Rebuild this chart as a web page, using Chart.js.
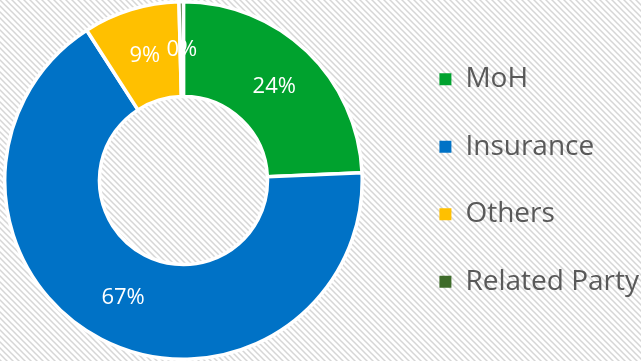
<!DOCTYPE html>
<html lang="en">
<head>
  <meta charset="UTF-8" />
  <title>Revenue by Payer</title>
  <script src="https://cdn.jsdelivr.net/npm/chart.js"></script>
  <style>
    html, body { margin: 0; padding: 0; background: #fff; }
    #wrap { width: 641px; height: 361px; }
  </style>
</head>
<body>
  <div id="wrap">
    <canvas id="payerChart" width="641" height="361"></canvas>
  </div>

  <script>
    // payer split, in percent
    const payers = ['MoH', 'Insurance', 'Others', 'Related Party'];
    const shares = [24.3, 66.6, 8.7, 0.4];
    const sliceColors = ['#00A22E', '#0072C6', '#FFC000', '#3E6B2A'];

    // light diagonal hatching behind the whole chart
    function hatchPattern(ctx) {
      const tile = document.createElement('canvas');
      tile.width = 6;
      tile.height = 6;
      const t = tile.getContext('2d');
      t.fillStyle = '#ffffff';
      t.fillRect(0, 0, 6, 6);
      t.strokeStyle = '#d6d6d6';
      t.lineWidth = 1.5;
      t.beginPath();
      t.moveTo(-1, -1); t.lineTo(7, 7);
      t.moveTo(-4, 2); t.lineTo(4, 10);
      t.moveTo(2, -4); t.lineTo(10, 4);
      t.stroke();
      return ctx.createPattern(tile, 'repeat');
    }

    const hatchBackground = {
      id: 'hatchBackground',
      beforeDraw(chart) {
        const ctx = chart.ctx;
        ctx.save();
        ctx.fillStyle = hatchPattern(ctx);
        ctx.fillRect(0, 0, chart.width, chart.height);
        ctx.restore();
      }
    };

    // legend sits a bit further right than the layout puts it
    const legendNudge = {
      id: 'legendNudge',
      afterLayout(chart) {
        chart.legend.left += 33;
        chart.legend.right += 33;
      }
    };

    // percent labels in the middle of each slice
    const sliceLabels = {
      id: 'sliceLabels',
      afterDatasetsDraw(chart) {
        const ctx = chart.ctx;
        const meta = chart.getDatasetMeta(0);
        const values = chart.data.datasets[0].data;
        const total = values.reduce((a, b) => a + b, 0);
        ctx.save();
        ctx.fillStyle = '#ffffff';
        ctx.font = '22px "Open Sans"';
        ctx.textAlign = 'center';
        ctx.textBaseline = 'middle';
        meta.data.forEach((arc, i) => {
          const pos = arc.tooltipPosition();
          ctx.fillText(Math.round(values[i] / total * 100) + '%', pos.x, pos.y + 1);
        });
        ctx.restore();
      }
    };

    const defaultLegendLabels = Chart.overrides.doughnut.plugins.legend.labels.generateLabels;

    new Chart(document.getElementById('payerChart'), {
      type: 'doughnut',
      data: {
        labels: payers,
        datasets: [{
          data: shares,
          backgroundColor: sliceColors,
          borderColor: '#ffffff',
          borderWidth: 3.5
        }]
      },
      options: {
        responsive: false,
        animation: false,
        cutout: '47%',
        layout: { padding: { left: 0, right: 25, top: 0, bottom: 0 } },
        plugins: {
          tooltip: { enabled: false },
          legend: {
            position: 'right',
            labels: {
              boxWidth: 12,
              boxHeight: 12,
              padding: 39.5,
              color: '#595959',
              font: { family: '"Open Sans"', size: 28 },
              generateLabels: chart => defaultLegendLabels(chart).map(item => ({ ...item, lineWidth: 0 }))
            }
          }
        }
      },
      plugins: [hatchBackground, legendNudge, sliceLabels]
    });
  </script>
</body>
</html>
